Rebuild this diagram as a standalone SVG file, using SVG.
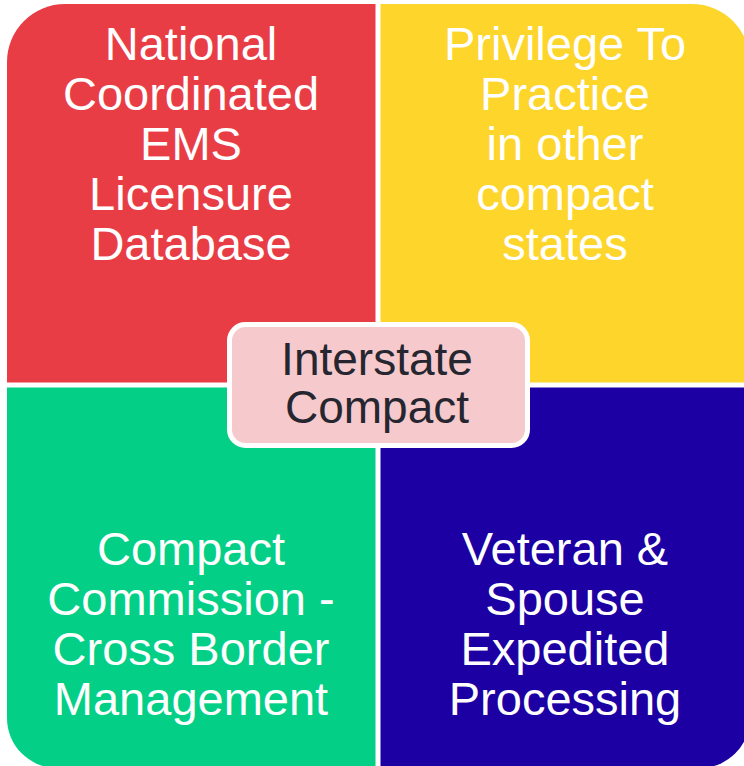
<svg xmlns="http://www.w3.org/2000/svg" width="744" height="766" viewBox="0 0 744 766">
  <style>
    .lbl { font-family: "Liberation Sans", Arial, sans-serif; font-size: 47px; fill: #ffffff; text-anchor: middle; }
    .core { font-family: "Liberation Sans", Arial, sans-serif; font-size: 46px; fill: #262630; text-anchor: middle; }
  </style>
  <rect width="744" height="766" fill="#ffffff"/>

  <!-- four quadrants of the matrix -->
  <g id="quad-database">
    <path d="M7,62 A58,58 0 0 1 65,4 L375.5,4 L375.5,382.5 L7,382.5 Z" fill="#E93D46"/>
    <text class="lbl" x="191" y="60">National</text>
    <text class="lbl" x="191" y="110">Coordinated</text>
    <text class="lbl" x="191" y="160">EMS</text>
    <text class="lbl" x="191" y="210">Licensure</text>
    <text class="lbl" x="191" y="260">Database</text>
  </g>

  <g id="quad-privilege">
    <path d="M380.5,4 L692,4 A58,58 0 0 1 750,62 L750,382.5 L380.5,382.5 Z" fill="#FED52B"/>
    <text class="lbl" x="565" y="60">Privilege To</text>
    <text class="lbl" x="565" y="110">Practice</text>
    <text class="lbl" x="565" y="160">in other</text>
    <text class="lbl" x="565" y="210">compact</text>
    <text class="lbl" x="565" y="260">states</text>
  </g>

  <g id="quad-commission">
    <path d="M7,387.5 L375.5,387.5 L375.5,768 L57,768 A50,50 0 0 1 7,718 Z" fill="#03CF86"/>
    <text class="lbl" x="191" y="565">Compact</text>
    <text class="lbl" x="191" y="615">Commission -</text>
    <text class="lbl" x="191" y="665">Cross Border</text>
    <text class="lbl" x="191" y="715">Management</text>
  </g>

  <g id="quad-veteran">
    <path d="M380.5,387.5 L750,387.5 L750,718 A50,50 0 0 1 700,768 L380.5,768 Z" fill="#1D00A3"/>
    <text class="lbl" x="565" y="565">Veteran &amp;</text>
    <text class="lbl" x="565" y="615">Spouse</text>
    <text class="lbl" x="565" y="665">Expedited</text>
    <text class="lbl" x="565" y="715">Processing</text>
  </g>

  <!-- central label -->
  <g id="center">
    <rect x="229.5" y="324.5" width="298" height="121" rx="16" ry="16" fill="#F6CACC" stroke="#ffffff" stroke-width="5"/>
    <text class="core" x="377" y="375">Interstate</text>
    <text class="core" x="377" y="423">Compact</text>
  </g>

  <g id="connectors"/>
</svg>
